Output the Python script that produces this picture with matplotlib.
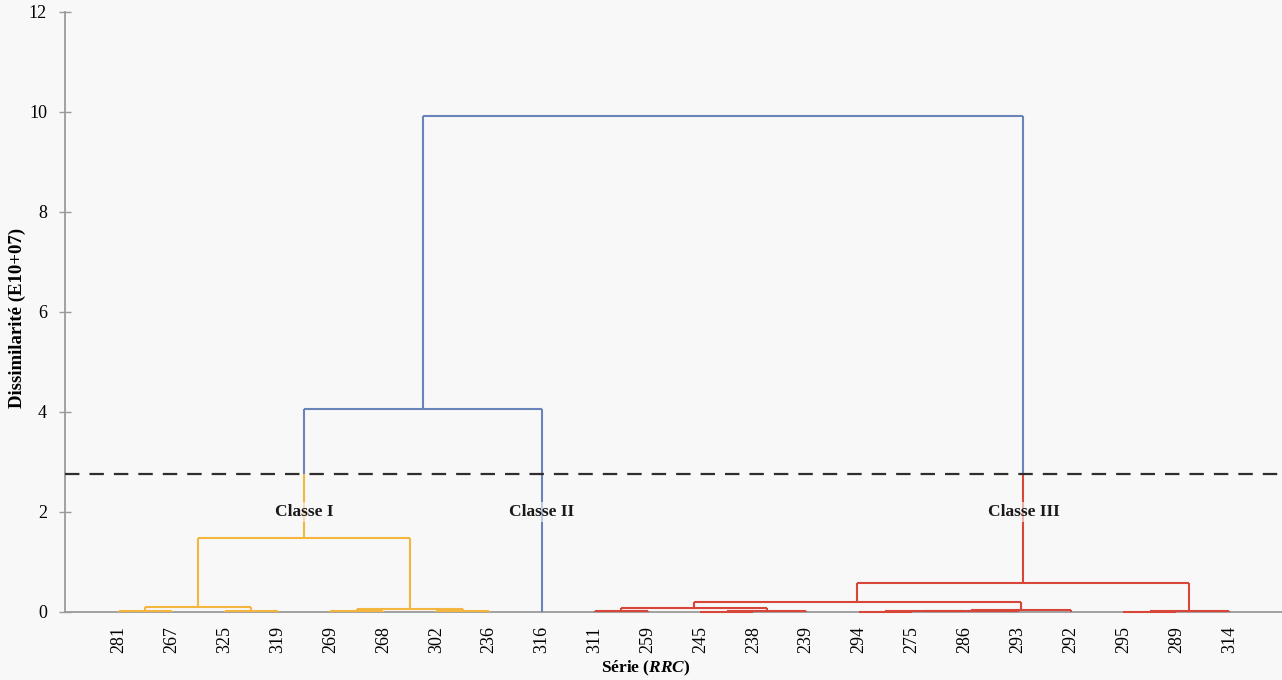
import numpy as np
import matplotlib
matplotlib.use('Agg')
import matplotlib.pyplot as plt

plt.rcParams['font.family'] = ['Liberation Serif', 'DejaVu Serif']
plt.rcParams['mathtext.fontset'] = 'custom'
plt.rcParams['mathtext.bfit'] = 'Liberation Serif:italic:bold'
plt.rcParams['mathtext.bf'] = 'Liberation Serif:bold'

# feuilles, dans l'ordre de l'axe
feuilles = ['281', '267', '325', '319', '269', '268', '302', '236', '316',
            '311', '259', '245', '238', '239', '294', '275', '286', '293',
            '292', '295', '289', '314']
classe = ['I'] * 8 + ['II'] + ['III'] * 13

# fusions : (noeud a, noeud b, hauteur) ; nouveaux noeuds numerotes a partir de 22
fusions = [
    (0, 1, 0.02), (2, 3, 0.02), (22, 23, 0.11),
    (4, 5, 0.02), (6, 7, 0.02), (25, 26, 0.07),
    (24, 27, 1.49), (28, 8, 4.07),
    (9, 10, 0.02), (11, 12, 0.01), (31, 13, 0.02), (30, 32, 0.09),
    (14, 15, 0.01), (34, 16, 0.015), (35, 17, 0.02), (36, 18, 0.035),
    (33, 37, 0.21),
    (19, 20, 0.01), (39, 21, 0.02), (38, 40, 0.58),
    (29, 41, 9.93),
]
seuil = 2.77
etiquettes_classes = ['Classe I', 'Classe II', 'Classe III']

bleu = '#6A84BA'
couleurs = {'I': '#F4B63E', 'II': bleu, 'III': '#D8463A'}

n = len(feuilles)
pos = {i: (i + 1.0, 0.0) for i in range(n)}
membres = {i: {classe[i]} for i in range(n)}

fig = plt.figure(figsize=(12.82, 6.8), dpi=100, facecolor='#F8F8F8')
ax = fig.add_axes([65 / 1282, 68 / 680, 1217 / 1282, 600 / 680])
ax.set_facecolor('#F8F8F8')

lw = 1.5


def trace(xs, ys, c):
    ax.plot(xs, ys, color=c, lw=lw, solid_capstyle='butt', zorder=3, clip_on=False)


def couleur(noeud, h):
    m = membres[noeud]
    if h >= seuil or len(m) > 1:
        return bleu
    return couleurs[list(m)[0]]


def verticale(x, h0, h1, noeud):
    # partie sous le seuil dans la couleur de la classe, au-dessus en bleu
    if h0 < seuil:
        trace([x, x], [h0, min(h1, seuil)], couleur(noeud, h0))
    if h1 > seuil:
        trace([x, x], [max(h0, seuil), h1], bleu)


for k, (a, b, h) in enumerate(fusions):
    nid = n + k
    xa, ha = pos[a]
    xb, hb = pos[b]
    membres[nid] = membres[a] | membres[b]
    verticale(xa, ha, h, a)
    verticale(xb, hb, h, b)
    trace([xa, xb], [h, h], couleur(nid, h))
    pos[nid] = ((xa + xb) / 2, h)

ax.axhline(seuil, color='#2E2E2E', lw=1.6, dashes=(6.5, 4.5), zorder=3)

# etiquettes des classes
x_classes = [pos[28][0], pos[8][0], pos[41][0]]
for x, t in zip(x_classes, etiquettes_classes):
    ax.text(x, 2.0, t, ha='center', va='center', fontsize=12.5, fontweight='bold',
            color='#1A1A1A', zorder=4,
            bbox=dict(boxstyle='square,pad=0.1', fc='#F8F8F8', ec='none', alpha=0.6))

ax.set_xlim(-0.02, 23.0)
ax.set_ylim(0, 12)
ax.set_xticks(np.arange(1, n + 1))
ax.set_xticklabels(feuilles, rotation=90, fontsize=13)
ax.tick_params(axis='x', length=0, pad=10)
ax.set_yticks(np.arange(0, 13, 2))
ax.tick_params(axis='y', direction='inout', length=8, width=1, color='#9A9A9A',
               labelsize=13, pad=9)

for s in ['top', 'right']:
    ax.spines[s].set_visible(False)
for s in ['left', 'bottom']:
    ax.spines[s].set_color('#9A9A9A')
    ax.spines[s].set_linewidth(1.3)
    ax.spines[s].set_zorder(1)

fig.text(17 / 1282, 1 - 318 / 680, 'Dissimilarité (E10+07)', fontsize=13.5,
         fontweight='bold', rotation=90, ha='center', va='center')
fig.text(646 / 1282, 1 - 668 / 680, r'Série ($\mathbfit{RRC}$)', fontsize=12.5,
         fontweight='bold', ha='center', va='center')

plt.savefig('out.png', dpi=100, facecolor=fig.get_facecolor())
